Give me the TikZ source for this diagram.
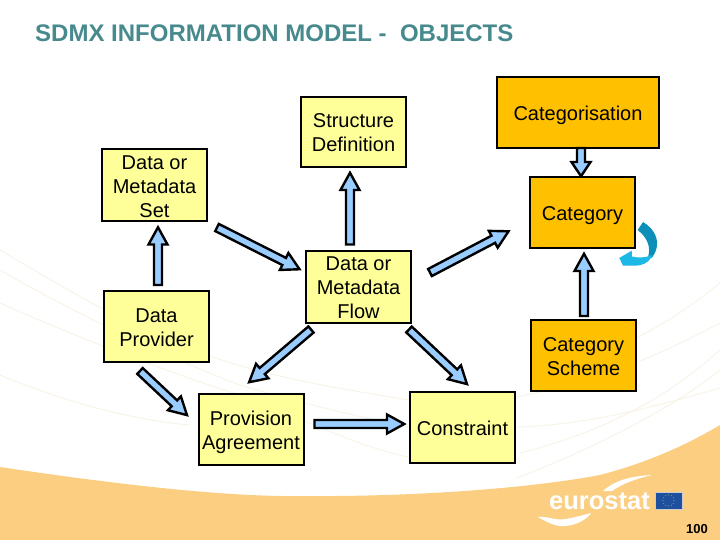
\documentclass[tikz,border=0pt]{standalone}
\usepackage{fontspec}
\setmainfont{Liberation Sans}
\usetikzlibrary{calc}
\definecolor{bandorange}{HTML}{FBCE82}
\definecolor{boxyellow}{HTML}{FFFF99}
\definecolor{boxorange}{HTML}{FFC000}
\definecolor{arrowblue}{HTML}{99CCFF}
\definecolor{titleteal}{HTML}{478A8D}
\definecolor{faintline}{HTML}{F8F3E6}
\definecolor{curvedark}{HTML}{0E8FB8}
\definecolor{curvelight}{HTML}{1CB8E6}
\definecolor{flagblue}{HTML}{1F4F9F}
\newcommand{\boxtext}[2]{\raisebox{-#1}[\height][\depth]{\begin{tabular}{@{}c@{}}#2\end{tabular}}}
\tikzset{
  objbox/.style={draw=black,line width=2pt,fill=boxyellow,minimum width=105pt,minimum height=71pt,
    inner sep=0pt,outer sep=0pt,align=center,font=\fontsize{20}{24}\selectfont},
  catbox/.style={objbox,fill=boxorange},
  faint/.style={draw=faintline,line width=0.9pt},
  blockarrow/.style={draw=black,line width=2.4pt,fill=arrowblue,line join=miter,miter limit=10,
    to path={
      let \p1=($(\tikztotarget)!2.8pt!(\tikztostart)$),
          \p2=($(\tikztotarget)!#1!(\tikztostart)$) in
      ($(\tikztostart)!4pt!90:(\p1)$) -- ($(\p2)!4pt!90:(\p1)$) -- ($(\p2)!9.5pt!90:(\p1)$) -- (\p1)
      -- ($(\p2)!9.5pt!-90:(\p1)$) -- ($(\p2)!4pt!-90:(\p1)$) -- ($(\tikztostart)!4pt!-90:(\p1)$) -- cycle
    }},
  blockarrow/.default=20pt
}
\begin{document}
\begin{tikzpicture}[x=1pt,y=-1pt]
\useasboundingbox (0,0) rectangle (720,540);
\fill[white] (0,0) rectangle (720,540);
% faint background curves
\draw[faint] (0,250) .. controls (60,285) and (140,335) .. (213,357) .. controls (280,380) and (350,390) .. (408,400);
\draw[faint] (0,270) .. controls (60,305) and (160,355) .. (240,385) .. controls (290,400) and (350,415) .. (408,427);
\draw[faint] (0,303) .. controls (60,330) and (160,370) .. (240,395) .. controls (280,408) and (350,445) .. (408,457);
\draw[faint] (0,375) .. controls (60,400) and (130,420) .. (190,425);
\draw[faint] (720,388) .. controls (660,405) and (590,425) .. (517,427);
\draw[faint] (720,323) .. controls (650,360) and (600,380) .. (517,397);
\draw[faint] (720,283) .. controls (680,315) and (660,325) .. (637,338);
\draw[faint] (720,350) .. controls (670,395) and (610,430) .. (520,453);
\draw[faint] (720,370) .. controls (670,410) and (590,450) .. (517,478);
% orange band
\fill[bandorange] (0,467) .. controls (100,482) and (220,497) .. (298,496)
  .. controls (400,497) and (520,490) .. (600,475) .. controls (650,462) and (690,443) .. (720,425)
  -- (720,540) -- (0,540) -- cycle;
% title
\node[anchor=west,inner sep=0pt,text=titleteal,font=\fontsize{24}{28}\selectfont\bfseries] (title) at (35,33) {SDMX INFORMATION MODEL -\ \ OBJECTS};
% objects
\node[objbox] (set) at (154.5,185.5) {\boxtext{3pt}{Data or\\Metadata\\Set}};
\node[objbox,minimum height=70pt] (struct) at (353.5,132) {\boxtext{2.5pt}{Structure\\Definition}};
\node[objbox] (flow) at (358.5,286.5) {\boxtext{3pt}{Data or\\Metadata\\Flow}};
\node[objbox] (provider) at (156.5,326.5) {\boxtext{3.5pt}{Data\\Provider}};
\node[objbox] (prov) at (251,429.5) {\boxtext{3.5pt}{Provision\\Agreement}};
\node[objbox] (constraint) at (462.5,427.5) {\boxtext{3pt}{Constraint}};
\node[catbox] (scheme) at (583.5,355.5) {\boxtext{3.5pt}{Category\\Scheme}};
\node[catbox] (category) at (582.5,212.5) {\boxtext{3pt}{Category}};
\node[catbox,minimum width=162pt] (catn) at (578,112.5) {\boxtext{3pt}{Categorisation}};
% connectors
\path[blockarrow] ([shift={(-8.5,-6)}]flow.north) to ([shift={(-3.5,3)}]struct.south);
\path[blockarrow] ([shift={(1.5,-6)}]provider.north) to ([shift={(3.5,3)}]set.south);
\path[blockarrow] ([shift={(10,6)}]set.south east) to ([shift={(-4,20)}]flow.north west);
\path[blockarrow] ([shift={(19,22)}]flow.north east) to ([shift={(-19,-18)}]category.south west);
\path[blockarrow] ([shift={(0.5,-4)}]scheme.north) to ([shift={(1.5,3)}]category.south);
\path[blockarrow=17pt] ([shift={(3,0)}]catn.south) to ([shift={(-1.5,2)}]category.north);
\path[blockarrow] ([shift={(5,7)}]flow.south west) to ([shift={(-4,-10)}]prov.north);
\path[blockarrow] ([shift={(-2,7)}]flow.south east) to ([shift={(6.5,-6)}]constraint.north);
\path[blockarrow] ([shift={(-16.5,9)}]provider.south) to ([shift={(-9.5,-12.5)}]prov.west);
\path[blockarrow] ([shift={(11,-5.5)}]prov.east) to ([shift={(-3,-3.5)}]constraint.west);
% curved arrow at Category
\fill[curvedark] (637.7,230) -- (643,222) .. controls (655,229) and (663,243) .. (651.7,258) -- (648,257)
  .. controls (651,248) and (648,238) .. (637.7,230) -- cycle;
\fill[curvelight] (651.7,257) .. controls (648,263) and (642,266) .. (634,265.5) -- (623,265.7) -- (619.3,258)
  -- (631.7,250.7) -- (632,256.5) .. controls (638,258) and (645,258) .. (651.7,255) -- cycle;
% logo
\fill[white] (603,491) .. controls (615,480) and (632,476) .. (652,475) .. controls (635,479) and (622,484) .. (612,491) -- cycle;
\fill[white] (538,517) .. controls (548,516) and (556,521) .. (566,519) .. controls (576,517) and (584,515) .. (591,513)
  .. controls (586,521) and (572,527) .. (560,526) .. controls (552,525) and (545,521) .. (538,517) -- cycle;
\node[anchor=base west,inner sep=0pt,text=white,font=\fontsize{25.5}{28}\selectfont\bfseries] (logo) at (549,509) {eurostat};
\node[draw=gray!40,line width=0.8pt,fill=flagblue,minimum width=27pt,minimum height=17pt,inner sep=0pt] (flag) at (668.5,500.5) {};
\foreach \a in {0,30,...,330}{\fill[yellow!80!white] ($(flag.center)+(\a:5.5)$) circle (0.4);}
\node[anchor=base east,inner sep=0pt,font=\fontsize{13}{15}\selectfont\bfseries] (page) at (708,533) {100};
\end{tikzpicture}
\end{document}
